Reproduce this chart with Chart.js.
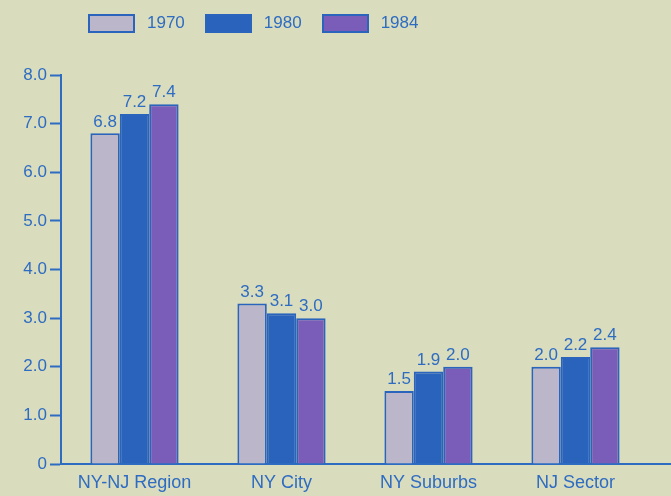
<!DOCTYPE html>
<html>
<head>
<meta charset="utf-8">
<script src="https://cdn.jsdelivr.net/npm/chart.js@4.4.1/dist/chart.umd.min.js"></script>
<style>
  html, body { margin: 0; padding: 0; background: #d9dcbd; }
  #wrap { position: relative; width: 671px; height: 496px; }
  #legend { position: absolute; left: 88px; top: 13px; display: flex; font: 17px "Liberation Sans", Arial, sans-serif; color: #2e6cc2; }
  .item { display: flex; align-items: center; margin-right: 20px; }
  .box { width: 43px; height: 15px; border: 2px solid #2a64bc; margin-right: 12px; }
</style>
</head>
<body>
<div id="wrap">
  <canvas id="chart" width="671" height="496"></canvas>
  <div id="legend"></div>
</div>
<script>
const categories = ['NY-NJ Region', 'NY City', 'NY Suburbs', 'NJ Sector'];
const years = ['1970', '1980', '1984'];
const values1970 = [6.8, 3.3, 1.5, 2.0];
const values1980 = [7.2, 3.1, 1.9, 2.2];
const values1984 = [7.4, 3.0, 2.0, 2.4];
const yTicks = [0, 1, 2, 3, 4, 5, 6, 7, 8];

const BLUE = '#2e6cc2';
const fills = ['#bcb6cb', '#2a63bb', '#7a5cb9'];
const FONT = '"Liberation Sans", Arial, sans-serif';

// Build the legend by hand so it can sit where the original does
const legendEl = document.getElementById('legend');
years.forEach((year, i) => {
  const item = document.createElement('div');
  item.className = 'item';
  const box = document.createElement('div');
  box.className = 'box';
  box.style.background = fills[i];
  const label = document.createElement('span');
  label.textContent = year;
  item.appendChild(box);
  item.appendChild(label);
  legendEl.appendChild(item);
});

// Values printed above each bar
const barLabels = {
  id: 'barLabels',
  afterDatasetsDraw(chart) {
    const ctx = chart.ctx;
    ctx.save();
    ctx.font = '17px ' + FONT;
    ctx.fillStyle = BLUE;
    ctx.textAlign = 'center';
    ctx.textBaseline = 'bottom';
    chart.data.datasets.forEach((ds, i) => {
      chart.getDatasetMeta(i).data.forEach((bar, j) => {
        ctx.fillText(ds.data[j].toFixed(1), bar.x, bar.y - 3);
      });
    });
    ctx.restore();
  }
};

// The baseline runs on to the right edge of the picture
const baseline = {
  id: 'baseline',
  afterDraw(chart) {
    const { ctx, chartArea } = chart;
    ctx.save();
    ctx.strokeStyle = BLUE;
    ctx.lineWidth = 2;
    ctx.beginPath();
    ctx.moveTo(chartArea.right - 2, chartArea.bottom);
    ctx.lineTo(chart.width, chartArea.bottom);
    ctx.stroke();
    ctx.restore();
  }
};

const series = [values1970, values1980, values1984];

new Chart(document.getElementById('chart'), {
  type: 'bar',
  data: {
    labels: categories,
    datasets: years.map((year, i) => ({
      label: year,
      data: series[i],
      backgroundColor: fills[i],
      borderColor: '#2a64bc',
      borderWidth: 2,
      categoryPercentage: 0.6,
      barPercentage: 1.0
    }))
  },
  options: {
    responsive: false,
    animation: false,
    layout: { padding: { top: 75, right: 22, bottom: 0, left: 0 } },
    plugins: {
      legend: { display: false },
      tooltip: { enabled: false }
    },
    scales: {
      x: {
        afterFit(scale) { scale.height = 32; },
        grid: { display: false, tickLength: 0 },
        border: { color: BLUE, width: 2 },
        ticks: { color: BLUE, font: { size: 18, family: FONT }, padding: 8 }
      },
      y: {
        min: 0,
        max: 8,
        afterFit(scale) { scale.width = 61; },
        afterBuildTicks(scale) { scale.ticks = yTicks.map(v => ({ value: v })); },
        grid: { drawOnChartArea: false, drawTicks: true, tickLength: 11, tickWidth: 2, color: BLUE },
        border: { color: BLUE, width: 2 },
        ticks: {
          color: BLUE,
          font: { size: 17, family: FONT },
          padding: 3,
          callback: v => v === 0 ? '0' : v.toFixed(1)
        }
      }
    }
  },
  plugins: [barLabels, baseline]
});
</script>
</body>
</html>
